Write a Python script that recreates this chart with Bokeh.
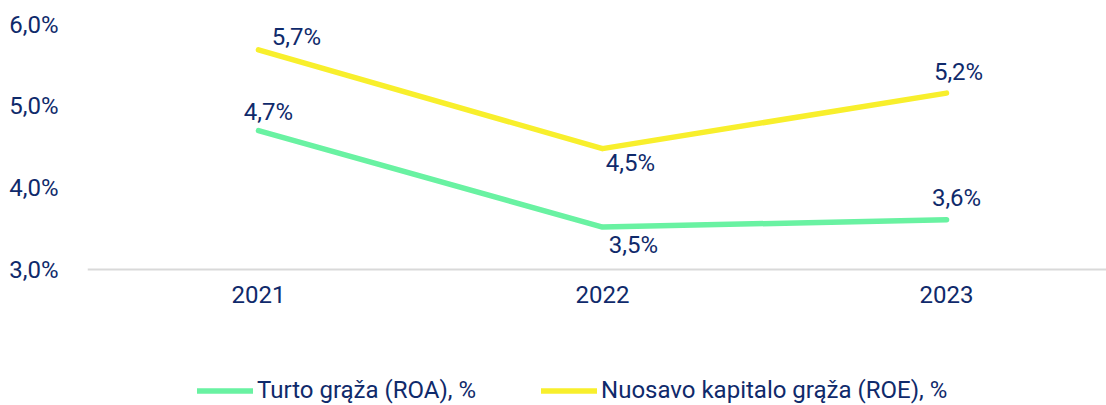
from bokeh.plotting import figure
from bokeh.models import ColumnDataSource, Range1d, FixedTicker, Legend, LegendItem
from bokeh.embed import file_html
from bokeh.resources import INLINE
from bokeh.core.properties import value

# ---- data ----
years = ["2021", "2022", "2023"]
roa = [4.70, 3.52, 3.61]
roe = [5.69, 4.48, 5.16]
roa_name = "Turto grąža (ROA), %"
roe_name = "Nuosavo kapitalo grąža (ROE), %"
y_ticks = [3.0, 4.0, 5.0, 6.0]

# ---- styling ----
NAVY = "#0f2a6b"
GREEN = "#69f2a2"
YELLOW = "#f8ef2c"
FONT = "Roboto"
FS = "24px"
# label offsets (screen px) per point
roa_dx, roa_dy = [10, 31, 10], [-19, 18, -22]
roe_dx, roe_dy = [38, 28, 12], [-13, 14, -21]

def fmt(v):
    return ("%.1f" % v).replace(".", ",") + "%"

xs = [i + 0.5 for i in range(len(years))]

H, TOP = 405, 24
px_per_unit = 245 / 3.0
y_lo = 6.0 - (H - TOP) / px_per_unit

p = figure(width=1106, height=H, output_backend="svg", toolbar_location=None,
           x_range=Range1d(0.003, 2.965), y_range=Range1d(y_lo, 6.0),
           min_border_left=87, min_border_right=0, min_border_top=TOP,
           min_border_bottom=0)
p.outline_line_color = None
p.xgrid.visible = False
p.ygrid.visible = False
p.background_fill_color = "white"
p.border_fill_color = "white"

src_roa = ColumnDataSource(dict(x=xs, y=roa, t=[fmt(v) for v in roa], dx=roa_dx, dy=roa_dy))
src_roe = ColumnDataSource(dict(x=xs, y=roe, t=[fmt(v) for v in roe], dx=roe_dx, dy=roe_dy))

r1 = p.line("x", "y", source=src_roa, line_color=GREEN, line_width=5.5,
            line_cap="round", line_join="round")
r2 = p.line("x", "y", source=src_roe, line_color=YELLOW, line_width=5.5,
            line_cap="round", line_join="round")

for s in (src_roa, src_roe):
    p.text("x", "y", text="t", source=s, x_offset="dx", y_offset="dy",
           text_align="center", text_baseline="middle",
           text_font=value(FONT), text_font_size=FS, text_color=NAVY)

# axes
xa = p.xaxis[0]
xa.fixed_location = 3.0
xa.ticker = FixedTicker(ticks=xs)
xa.major_label_overrides = {x: y for x, y in zip(xs, years)}
xa.axis_line_color = "#d9d9d9"
xa.axis_line_width = 2
xa.major_tick_line_color = None
xa.minor_tick_line_color = None
xa.major_label_text_font = FONT
xa.major_label_text_font_size = FS
xa.major_label_text_color = NAVY
xa.major_label_standoff = 10

ya = p.yaxis[0]
ya.ticker = FixedTicker(ticks=y_ticks)
ya.major_label_overrides = {v: fmt(v) for v in y_ticks}
ya.axis_line_color = None
ya.major_tick_line_color = None
ya.minor_tick_line_color = None
ya.major_label_text_font = FONT
ya.major_label_text_font_size = FS
ya.major_label_text_color = NAVY
ya.major_label_standoff = 23

legend = Legend(items=[LegendItem(label=roa_name, renderers=[r1]),
                       LegendItem(label=roe_name, renderers=[r2])],
                location=(110, 1), orientation="horizontal",
                glyph_width=56, glyph_height=23, label_height=23,
                label_standoff=4, spacing=65, padding=0, margin=0,
                border_line_color=None, background_fill_alpha=0,
                label_text_font=FONT, label_text_font_size=FS,
                label_text_color=NAVY)
p.add_layout(legend, "center")

open("out.html", "w").write(file_html(p, INLINE))
